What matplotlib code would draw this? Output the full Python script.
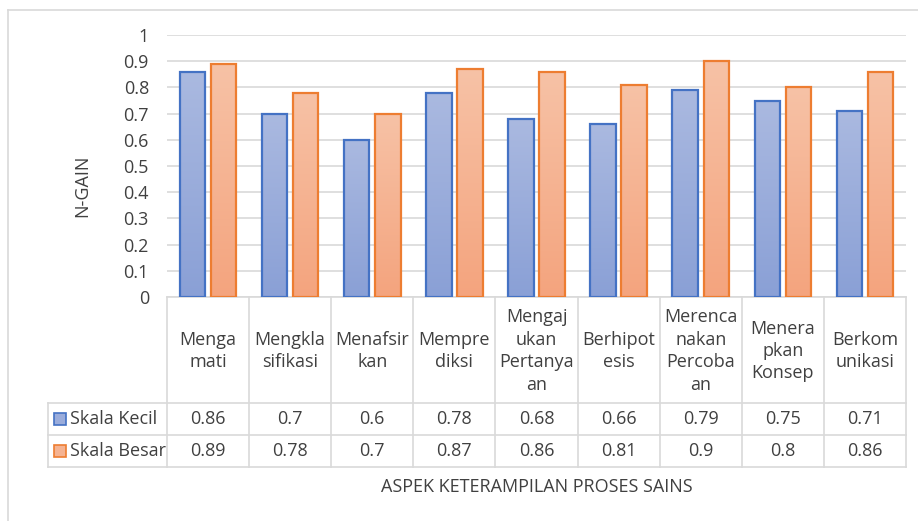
import numpy as np
import matplotlib
matplotlib.use("Agg")
import matplotlib.pyplot as plt
from matplotlib.lines import Line2D
from matplotlib.patches import Rectangle

plt.rcParams["font.family"] = ["Open Sans", "DejaVu Sans"]

categories = ["Menga\nmati", "Mengkla\nsifikasi", "Menafsir\nkan", "Mempre\ndiksi",
              "Mengaj\nukan\nPertanya\nan", "Berhipot\nesis", "Merenca\nnakan\nPercoba\nan",
              "Menera\npkan\nKonsep", "Berkom\nunikasi"]
skala_kecil = [0.86, 0.7, 0.6, 0.78, 0.68, 0.66, 0.79, 0.75, 0.71]
skala_besar = [0.89, 0.78, 0.7, 0.87, 0.86, 0.81, 0.9, 0.8, 0.86]
kecil_labels = ["0.86", "0.7", "0.6", "0.78", "0.68", "0.66", "0.79", "0.75", "0.71"]
besar_labels = ["0.89", "0.78", "0.7", "0.87", "0.86", "0.81", "0.9", "0.8", "0.86"]

W, H = 918, 521
TXT = "#404040"
GRID = "#d9d9d9"
FS = 13

fig = plt.figure(figsize=(W / 100, H / 100), dpi=100)


def fx(px):
    return px / W


def fy(py):
    return 1 - py / H


# plot area in pixels
L, R, T, B = 167, 906, 35, 297
ax = fig.add_axes([fx(L), fy(B), fx(R) - fx(L), fy(T) - fy(B)])

n = len(categories)
x = np.arange(n)
w = 0.31
off = 0.19


def grad_bars(xs, vals, top, bottom, edge):
    bars = ax.bar(xs, vals, w, facecolor="none", edgecolor=edge, linewidth=1.6, zorder=3)
    cmap = matplotlib.colors.LinearSegmentedColormap.from_list("g", [bottom, top])
    g = np.linspace(0, 1, 100).reshape(-1, 1)
    for b in bars:
        x0, h = b.get_x(), b.get_height()
        im = ax.imshow(g, cmap=cmap, origin="lower", aspect="auto",
                       extent=[x0, x0 + b.get_width(), 0, h], zorder=2)
        im.set_clip_path(b)
    return bars


grad_bars(x - off, skala_kecil, "#aab9e0", "#8aa0d6", "#4472c4")
grad_bars(x + off, skala_besar, "#f7c2a6", "#f4a47e", "#ed7d31")

ax.set_xlim(-0.5, n - 0.5)
ax.set_ylim(0, 1)
ax.set_yticks(np.arange(0, 1.01, 0.1))
ax.set_yticklabels(["0", "0.1", "0.2", "0.3", "0.4", "0.5", "0.6", "0.7", "0.8", "0.9", "1"])
ax.set_xticks([])
ax.tick_params(axis="y", length=0, labelsize=FS, labelcolor=TXT, pad=13)
ax.grid(axis="y", color=GRID, linewidth=1.2, zorder=0)
ax.set_axisbelow(True)
for s in ["top", "right", "left"]:
    ax.spines[s].set_visible(False)
ax.spines["bottom"].set_color(GRID)
ax.spines["bottom"].set_linewidth(1.2)
ax.set_xlim(-0.5, n - 0.5)

fig.text(fx(82), fy(186), "N-GAIN", rotation=90, ha="center", va="center",
         fontsize=FS, color=TXT)

# data table
col_w = (R - L) / n
hdr_b, r1_b, r2_b = 403, 435, 467
leg_l = 48


def hline(y, x0, x1):
    fig.add_artist(Line2D([fx(x0), fx(x1)], [fy(y), fy(y)], color=GRID, linewidth=1.2))


def vline(xp, y0, y1):
    fig.add_artist(Line2D([fx(xp), fx(xp)], [fy(y0), fy(y1)], color=GRID, linewidth=1.2))


for y in [hdr_b, r1_b, r2_b]:
    hline(y, leg_l, R)
vline(leg_l, hdr_b, r2_b)
for i in range(n + 1):
    vline(L + i * col_w, B, r2_b)

for i, cat in enumerate(categories):
    cx = L + (i + 0.5) * col_w
    fig.text(fx(cx), fy(351), cat, ha="center", va="center", fontsize=FS,
             color=TXT, linespacing=1.32)
    fig.text(fx(cx), fy(419), kecil_labels[i], ha="center", va="center",
             fontsize=FS, color=TXT)
    fig.text(fx(cx), fy(451), besar_labels[i], ha="center", va="center",
             fontsize=FS, color=TXT)

for ry, fc, ec, name in [(419, "#9aacdb", "#4472c4", "Skala Kecil"),
                         (451, "#f5b392", "#ed7d31", "Skala Besar")]:
    fig.add_artist(Rectangle((fx(54), fy(ry + 6)), fx(12), 12 / H, facecolor=fc,
                             edgecolor=ec, linewidth=1.2))
    fig.text(fx(70), fy(ry), name, ha="left", va="center", fontsize=FS, color=TXT)

fig.text(fx(537), fy(487), "ASPEK KETERAMPILAN PROSES SAINS", ha="center",
         va="center", fontsize=FS, color=TXT)

# chart frame
hline(10, 8, W)
vline(8, 10, H)

fig.savefig("out.png", dpi=100)
